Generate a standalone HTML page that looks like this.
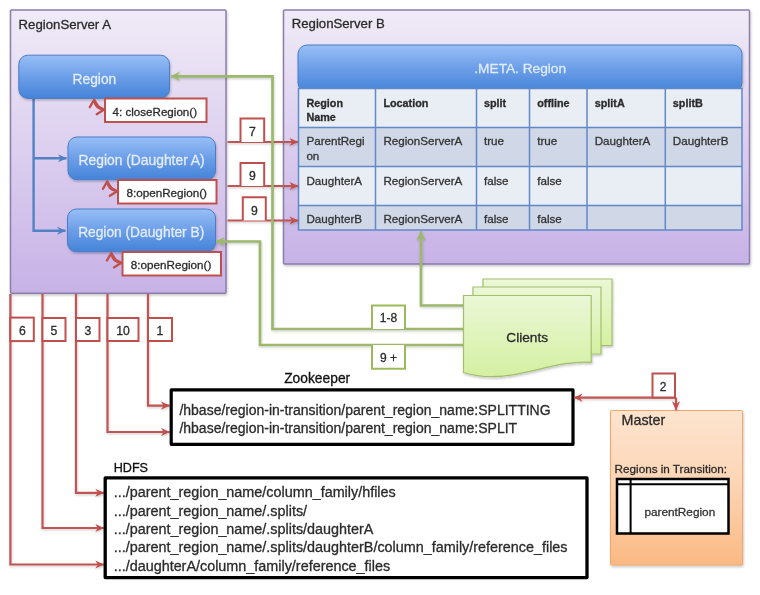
<!DOCTYPE html>
<html><head><meta charset="utf-8">
<style>
html,body{margin:0;padding:0;background:#fff;width:760px;height:595px;overflow:hidden}
svg{display:block;will-change:transform}
text{font-family:"Liberation Sans",sans-serif}
</style></head>
<body>
<svg width="760" height="595" viewBox="0 0 760 595">
<defs>
<linearGradient id="gPurpA" x1="0" y1="0" x2="0" y2="1">
<stop offset="0" stop-color="#f0ebf7"/><stop offset="1" stop-color="#c7b2e6"/>
</linearGradient>
<linearGradient id="gBlue" x1="0" y1="0" x2="0" y2="1">
<stop offset="0" stop-color="#98bff6"/><stop offset="0.5" stop-color="#6c9ee8"/><stop offset="1" stop-color="#4483d8"/>
</linearGradient>
<linearGradient id="gGreen" x1="0" y1="0" x2="0" y2="1">
<stop offset="0" stop-color="#ebf7d6"/><stop offset="1" stop-color="#d4f0a2"/>
</linearGradient>
<linearGradient id="gOrange" x1="0" y1="0" x2="0" y2="1">
<stop offset="0" stop-color="#fde4cf"/><stop offset="0.45" stop-color="#fcd6b6"/><stop offset="1" stop-color="#fbb983"/>
</linearGradient>
<marker id="aR" viewBox="0 0 10 10" refX="9.5" refY="5" markerUnits="userSpaceOnUse" markerWidth="9" markerHeight="10" orient="auto">
<path d="M0,0.5 L10,5 L0,9.5 L3,5 Z" fill="#c0504d"/>
</marker>
<marker id="aRs" viewBox="0 0 10 10" refX="9.5" refY="5" markerUnits="userSpaceOnUse" markerWidth="8" markerHeight="9" orient="auto-start-reverse">
<path d="M0,0.5 L10,5 L0,9.5 L3,5 Z" fill="#c0504d"/>
</marker>
<marker id="aG" viewBox="0 0 10 10" refX="9.5" refY="5" markerUnits="userSpaceOnUse" markerWidth="9.5" markerHeight="11.5" orient="auto">
<path d="M0,0 L10,5 L0,10 L3,5 Z" fill="#9db86c"/>
</marker>
<marker id="aB" viewBox="0 0 10 10" refX="9.5" refY="5" markerUnits="userSpaceOnUse" markerWidth="9" markerHeight="10" orient="auto">
<path d="M0,0.5 L10,5 L0,9.5 L3,5 Z" fill="#4f7fc4"/>
</marker>
<filter id="sh" x="-5%" y="-5%" width="112%" height="112%">
<feDropShadow dx="0.8" dy="1.6" stdDeviation="1.1" flood-color="#000" flood-opacity="0.22"/>
</filter>
<filter id="shl" filterUnits="userSpaceOnUse" x="0" y="0" width="760" height="595">
<feDropShadow dx="0.5" dy="1.3" stdDeviation="0.8" flood-color="#000" flood-opacity="0.2"/>
</filter>
</defs>

<!-- RegionServer A -->
<rect x="10.5" y="10" width="215.5" height="283.2" rx="1.2" fill="url(#gPurpA)" stroke="#8b7eac" stroke-width="1.5" filter="url(#sh)"/>
<text x="18.6" y="29.2" font-size="13.2" fill="#2b2b2b" stroke="#2b2b2b" stroke-width="0.3">RegionServer A</text>

<!-- RegionServer B -->
<rect x="283.5" y="10" width="466" height="254" rx="1.2" fill="url(#gPurpA)" stroke="#8b7eac" stroke-width="1.5" filter="url(#sh)"/>
<text x="291.7" y="28.4" font-size="13.2" fill="#2b2b2b" stroke="#2b2b2b" stroke-width="0.3">RegionServer B</text>

<!-- blue connectors inside RS A -->
<path d="M33.6,98 V230.8 H65.5" fill="none" stroke="#5282c4" stroke-width="2.4" marker-end="url(#aB)"/>
<path d="M33.6,158.2 H66.5" fill="none" stroke="#5282c4" stroke-width="2.4" marker-end="url(#aB)"/>

<!-- Region buttons -->
<rect x="18.8" y="55.2" width="150.7" height="43.2" rx="9" fill="url(#gBlue)" stroke="#4d7cc2" stroke-width="1" filter="url(#sh)"/>
<text x="94.4" y="83.6" font-size="13.8" fill="#e2ecfb" text-anchor="middle" stroke="#e2ecfb" stroke-width="0.3">Region</text>
<rect x="68" y="137" width="147.5" height="42.8" rx="9" fill="url(#gBlue)" stroke="#4d7cc2" stroke-width="1" filter="url(#sh)"/>
<text x="141.6" y="164.6" font-size="13.85" fill="#e2ecfb" text-anchor="middle" stroke="#e2ecfb" stroke-width="0.3">Region (Daughter A)</text>
<rect x="67.5" y="209" width="148" height="42.8" rx="9" fill="url(#gBlue)" stroke="#4d7cc2" stroke-width="1" filter="url(#sh)"/>
<text x="141.2" y="236.5" font-size="13.75" fill="#e2ecfb" text-anchor="middle" stroke="#e2ecfb" stroke-width="0.3">Region (Daughter B)</text>

<!-- red call boxes -->
<rect x="105" y="98.5" width="101.5" height="23.5" fill="#fff" stroke="#c0504d" stroke-width="2"/>
<text x="112.6" y="115.8" font-size="11.6" fill="#2b2b2b" stroke="#2b2b2b" stroke-width="0.3">4: closeRegion()</text>
<rect x="118" y="180" width="98.5" height="23.5" fill="#fff" stroke="#c0504d" stroke-width="2"/>
<text x="126.4" y="197.3" font-size="11.7" fill="#2b2b2b" stroke="#2b2b2b" stroke-width="0.3">8:openRegion()</text>
<rect x="122.5" y="252" width="98.5" height="23.5" fill="#fff" stroke="#c0504d" stroke-width="2"/>
<text x="130.8" y="269.3" font-size="11.7" fill="#2b2b2b" stroke="#2b2b2b" stroke-width="0.3">8:openRegion()</text>

<!-- tiny curved double arrows -->
<defs><g id="curl" fill="none" stroke="#c0504d" stroke-width="2.3" stroke-linecap="round" stroke-linejoin="miter">
<path d="M-4.3,7.6 L0,0.3 L4.2,6.8"/>
<path d="M0,0.5 C0.8,6 4,9.6 10,10"/>
<path d="M2.6,14.6 L10,10 L3.8,6.6"/>
</g></defs>
<use href="#curl" x="94.1" y="99.6"/>
<use href="#curl" x="107.2" y="181.2"/>
<use href="#curl" x="111.3" y="252.8"/>

<!-- META bar -->
<rect x="298" y="45" width="444" height="47" rx="9" fill="url(#gBlue)" stroke="#4d7cc2" stroke-width="1" filter="url(#sh)"/>
<text x="520.2" y="73" font-size="13.7" fill="#e0ebfb" text-anchor="middle" stroke="#e0ebfb" stroke-width="0.3">.META. Region</text>

<!-- table -->
<rect x="298.5" y="88.5" width="443.5" height="39" fill="#e9edf4"/>
<rect x="298.5" y="127.5" width="443.5" height="39" fill="#d0d8e8"/>
<rect x="298.5" y="166.5" width="443.5" height="39" fill="#e9edf4"/>
<rect x="298.5" y="205.5" width="443.5" height="24.5" fill="#d0d8e8"/>
<g stroke="#6189c8" stroke-width="1.5" fill="none">
<rect x="298.5" y="88.5" width="443.5" height="141.5"/>
<path d="M298.5,127.5H742M298.5,166.5H742M298.5,205.5H742M375.5,88.5V230M476.5,88.5V230M529.5,88.5V230M587,88.5V230M665.3,88.5V230"/>
</g>
<g font-size="10.8" font-weight="bold" fill="#2b2b2b" stroke="#2b2b2b" stroke-width="0.3">
<text x="306.4" y="106.5">Region</text><text x="306.4" y="121.3">Name</text>
<text x="383.4" y="106.5">Location</text>
<text x="484" y="106.5">split</text>
<text x="537.2" y="106.5">offline</text>
<text x="594.7" y="106.5">splitA</text>
<text x="672.8" y="106.5">splitB</text>
</g>
<g font-size="11.65" fill="#333" stroke="#333" stroke-width="0.3">
<text x="306.4" y="145.4">ParentRegi</text><text x="306.4" y="160.3">on</text>
<text x="383.4" y="145.4">RegionServerA</text>
<text x="484" y="145.4">true</text>
<text x="537.2" y="145.4">true</text>
<text x="594.7" y="145.4">DaughterA</text>
<text x="672.8" y="145.4">DaughterB</text>
<text x="306.4" y="184.5">DaughterA</text>
<text x="383.4" y="184.5">RegionServerA</text>
<text x="484" y="184.5">false</text>
<text x="537.2" y="184.5">false</text>
<text x="306.4" y="223">DaughterB</text>
<text x="383.4" y="223">RegionServerA</text>
<text x="484" y="223">false</text>
<text x="537.2" y="223">false</text>
</g>

<!-- red arrows RS A -> table -->
<g stroke="#c05552" stroke-width="2.2" fill="none" filter="url(#shl)">
<path d="M227.5,142 H298" marker-end="url(#aR)"/>
<path d="M227.5,186 H298" marker-end="url(#aR)"/>
<path d="M227.5,220.5 H298" marker-end="url(#aR)"/>
</g>
<g stroke="#c0504d" stroke-width="2" fill="#fff">
<path d="M240.5,142 V118.5 H264.2 V142"/>
<path d="M240.5,186 V163 H264.2 V186"/>
<path d="M242.8,220.5 V197.2 H265.8 V220.5"/>
</g>
<g font-size="12.2" fill="#2b2b2b" text-anchor="middle" stroke="#2b2b2b" stroke-width="0.3">
<text x="252.4" y="135.8">7</text>
<text x="252.4" y="180">9</text>
<text x="254.3" y="214.5">9</text>
</g>

<!-- green connectors -->
<g stroke="#9db86c" stroke-width="2.7" fill="none" filter="url(#shl)">
<path d="M464,329 H272.5 V76.3 H171" marker-end="url(#aG)"/>
<path d="M464,345 H260 V241.5 H216" marker-end="url(#aG)"/>
<path d="M464,305.5 H421 V231.5" marker-end="url(#aG)"/>
</g>
<g stroke="#9bbb59" stroke-width="2" fill="#fff">
<path d="M372,329 V305.5 H405 V329"/>
<path d="M372,345 V368.7 H405 V345"/>
</g>
<g font-size="12" fill="#2b2b2b" text-anchor="middle" stroke="#2b2b2b" stroke-width="0.3">
<text x="388.5" y="322">1-8</text>
<text x="388.5" y="362">9 +</text>
</g>

<!-- Clients multi document -->
<g stroke="#a2c06c" stroke-width="1.2" fill="url(#gGreen)" filter="url(#sh)">
<path d="M483,279 H612 V345.5 H483 Z"/>
<path d="M473,287 H601 V354 H473 Z"/>
<path d="M463.5,295.5 H591.2 V362.3 C550,359 510,387 463.5,372.5 Z"/>
</g>
<text x="527.2" y="341.6" font-size="13.7" fill="#2a2a2a" text-anchor="middle" stroke="#2a2a2a" stroke-width="0.3">Clients</text>

<!-- red lines down from RS A -->
<g stroke="#c05552" stroke-width="2.2" fill="none" filter="url(#shl)">
<path d="M148,294 V405.6 H169.5" marker-end="url(#aR)"/>
<path d="M107.5,294 V432 H169.5" marker-end="url(#aR)"/>
<path d="M76,294 V492.8 H103.8" marker-end="url(#aR)"/>
<path d="M42.5,294 V528 H103.8" marker-end="url(#aR)"/>
<path d="M10.4,294 V564.5 H103.8" marker-end="url(#aR)"/>
</g>
<g stroke="#c0504d" stroke-width="2" fill="#fff">
<rect x="10.4" y="317.6" width="23.4" height="23.5"/>
<rect x="42.5" y="318" width="23" height="23"/>
<rect x="76" y="318" width="23.5" height="23"/>
<rect x="107.5" y="318" width="31" height="23"/>
<rect x="148" y="318" width="24" height="23"/>
</g>
<g font-size="12.2" fill="#2b2b2b" text-anchor="middle" stroke="#2b2b2b" stroke-width="0.3">
<text x="22.5" y="335.3">6</text>
<text x="54" y="335.3">5</text>
<text x="87.8" y="335.3">3</text>
<text x="123" y="335.3">10</text>
<text x="160" y="335.3">1</text>
</g>

<!-- Zookeeper -->
<text x="284.2" y="383" font-size="13.8" fill="#111" stroke="#111" stroke-width="0.3">Zookeeper</text>
<rect x="171.2" y="389.8" width="401.8" height="54.5" fill="#fff" stroke="#000" stroke-width="3.2" stroke-linejoin="round"/>
<text x="179.4" y="415.3" font-size="14" fill="#2b2b2b" stroke="#2b2b2b" stroke-width="0.3">/hbase/region-in-transition/parent_region_name:SPLITTING</text>
<text x="179.4" y="432.7" font-size="14" fill="#2b2b2b" stroke="#2b2b2b" stroke-width="0.3">/hbase/region-in-transition/parent_region_name:SPLIT</text>

<!-- HDFS -->
<text x="113.7" y="471.8" font-size="12.6" fill="#111" stroke="#111" stroke-width="0.3">HDFS</text>
<rect x="105.2" y="477.9" width="481.8" height="99.7" fill="#fff" stroke="#000" stroke-width="3.3" stroke-linejoin="round"/>
<g font-size="14.38" fill="#2b2b2b" stroke="#2b2b2b" stroke-width="0.3">
<text x="113.7" y="497.2">.../parent_region_name/column_family/hfiles</text>
<text x="113.7" y="515.6">.../parent_region_name/.splits/</text>
<text x="113.7" y="534">.../parent_region_name/.splits/daughterA</text>
<text x="113.7" y="552.4">.../parent_region_name/.splits/daughterB/column_family/reference_files</text>
<text x="113.7" y="570.8">.../daughterA/column_family/reference_files</text>
</g>

<!-- Master -->
<rect x="610.5" y="410.5" width="132" height="154.5" rx="1" fill="url(#gOrange)" stroke="#f2a66a" stroke-width="1" filter="url(#sh)"/>
<text x="621.6" y="425.2" font-size="14.3" fill="#2b2b2b" stroke="#2b2b2b" stroke-width="0.3">Master</text>
<text x="614.6" y="473" font-size="11.7" fill="#2b2b2b" stroke="#2b2b2b" stroke-width="0.3">Regions in Transition:</text>
<rect x="617" y="479" width="111.5" height="54.5" fill="#fff" stroke="#000" stroke-width="2.5"/>
<path d="M617,484.3 H728.5 M630.6,479 V533.5" stroke="#000" stroke-width="2" fill="none"/>
<text x="679.8" y="515.8" font-size="11.8" fill="#333" text-anchor="middle" stroke="#333" stroke-width="0.3">parentRegion</text>

<!-- red Zookeeper <-> Master -->
<path d="M675.8,397.6 H574" fill="none" filter="url(#shl)" stroke="#c05552" stroke-width="2.2" marker-end="url(#aR)"/>
<path d="M676,397.6 V409.8" fill="none" filter="url(#shl)" stroke="#c05552" stroke-width="2.2" marker-end="url(#aR)"/>
<rect x="652.5" y="373.5" width="22.5" height="24" fill="#fff" stroke="#c0504d" stroke-width="2"/>
<text x="663" y="390.6" font-size="12" fill="#2b2b2b" text-anchor="middle" stroke="#2b2b2b" stroke-width="0.3">2</text>

</svg>
</body></html>
